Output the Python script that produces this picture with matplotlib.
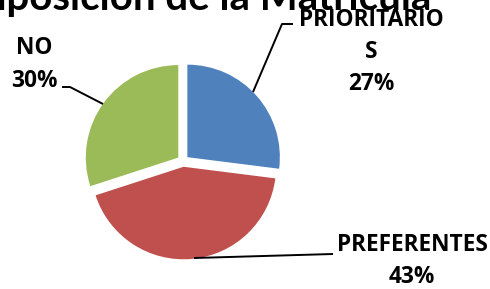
import matplotlib
matplotlib.use("Agg")
import matplotlib.pyplot as plt

# Data
categories = ["PRIORITARIOS", "PREFERENTES", "NO"]
label_text = ["PRIORITARIO\nS", "PREFERENTES", "NO"]
values = [27, 43, 30]
colors = ["#4F81BD", "#C0504D", "#9BBB59"]
title = "Composición de la Matrícula"

W, H = 490, 289
fig = plt.figure(figsize=(W / 100, H / 100), dpi=100)
ax = fig.add_axes([0, 0, 1, 1])

cx, cy, R = 183, H - 161, 92.5
ax.pie(values, colors=colors, startangle=90, counterclock=False,
       center=(cx, cy), radius=R, explode=[5.8] * len(values),
       wedgeprops=dict(linewidth=0))
ax.set_xlim(0, W)
ax.set_ylim(0, H)
ax.set_aspect("equal")
ax.axis("off")

tfont = dict(family=["Lato", "DejaVu Sans"], fontweight="bold", color="black")
lfont = dict(family=["Open Sans", "DejaVu Sans"], fontweight="bold", color="black")

# Title (clipped at top in reference)
ax.text(431, H - 10, title, ha="right", va="baseline", fontsize=29, **tfont)

# Labels
lab_pos = [(371, H - 52), (412, H - 261), (34, H - 64.5)]
for txt, v, (x, y) in zip(label_text, values, lab_pos):
    ax.text(x, y, f"{txt}\n{v}%", ha="center", va="center", fontsize=16.3,
            linespacing=1.45, **lfont)

# Leader lines (pixel coordinates)
leaders = [
    [(293, 24), (282, 24), (253, 92)],
    [(194, 258), (333, 254)],
    [(62, 87), (70, 87), (103, 104)],
]
for pts in leaders:
    xs = [p[0] for p in pts]
    ys = [H - p[1] for p in pts]
    ax.plot(xs, ys, color="black", linewidth=1.4, solid_capstyle="butt")

fig.savefig("out.png", dpi=100)
